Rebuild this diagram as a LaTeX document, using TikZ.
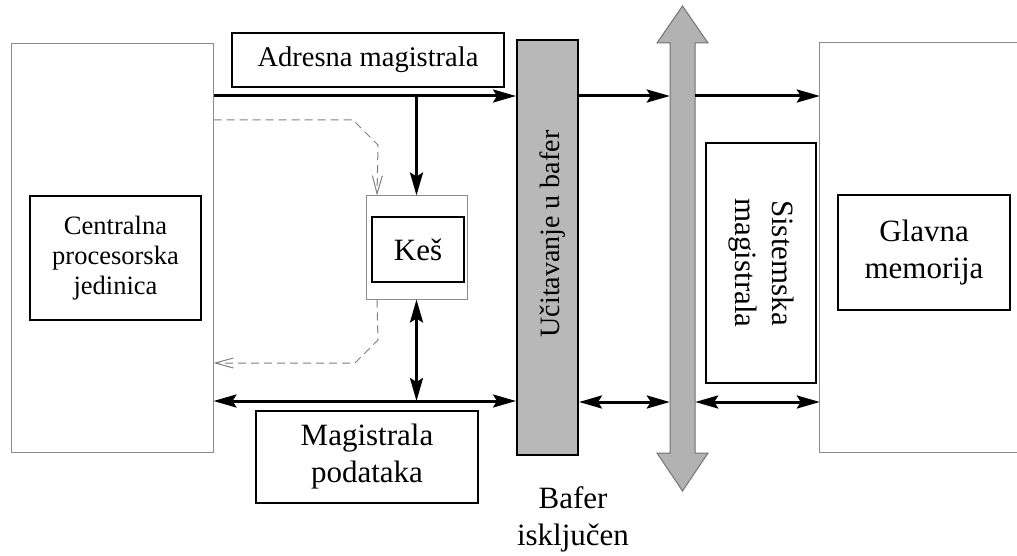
\documentclass[tikz,border=0pt]{standalone}
\usepackage{fontspec}
\setmainfont{Liberation Serif}
\usetikzlibrary{arrows.meta,calc}
\begin{document}
\begin{tikzpicture}[x=1pt,y=-1pt,
  box/.style={draw=black,line width=2pt,inner sep=0pt,rectangle,align=center},
  outer/.style={draw=black!45,line width=1pt,inner sep=0pt,rectangle},
  bus/.style={line width=3pt,-{Stealth[length=23pt,width=13pt,inset=4pt]}},
  bibus/.style={line width=3pt,{Stealth[length=23pt,width=13pt,inset=4pt]}-{Stealth[length=23pt,width=13pt,inset=4pt]}},
  ctrl/.style={draw=black!50,line width=1pt,dash pattern=on 8pt off 5pt,-{Straight Barb[length=18pt,width=10pt]}},
  big/.style={font=\fontsize{31}{37}\selectfont},
]
\useasboundingbox[fill=white] (0,0) rectangle (1017,556);

% outer boxes
\node[outer,minimum width=202pt,minimum height=408pt] (cpu) at (112,248) {};
\node[outer,minimum width=101pt,minimum height=103pt] (cache) at (416.5,247.5) {};
\node[inner sep=0pt,minimum width=197pt,minimum height=409pt] (mem) at (918.5,247.5) {};
\draw[draw=black!45,line width=1pt] (mem.north east) -- (mem.north west) -- (mem.south west) -- (mem.south east);

% inner boxes
\node[box,minimum width=171pt,minimum height=124pt,font=\fontsize{26.5}{30}\selectfont] (cpuin) at (115.5,258) {Centralna\\procesorska\\jedinica};
\node[box,minimum width=272pt,minimum height=54pt,font=\fontsize{28.5}{34}\selectfont] (adr) at (368,60) {Adresna magistrala};
\node[box,big,minimum width=92pt,minimum height=65pt] (kes) at (418,249.5) {Keš};
\node[box,big,minimum width=222pt,minimum height=92pt] (mpod) at (367,457) {Magistrala\\podataka};
\node[box,big,rotate=-90,minimum width=240pt,minimum height=110pt] (sysm) at (761,263) {Sistemska\\magistrala};
\node[box,big,minimum width=172pt,minimum height=115pt] (glav) at (924,252.5) {Glavna\\memorija};

% buffer
\node[box,fill=black!28,minimum width=61pt,minimum height=415pt] (buf) at (547.5,247.5) {};
\node[rotate=90,inner sep=0pt,font=\fontsize{28}{34}\selectfont] (buftext) at (553,234) {Učitavanje u bafer};

% system bus arrow
\node[inner sep=0pt,minimum width=25pt,minimum height=410pt] (sysbus) at (682.5,248) {};
\draw[fill=black!30,draw=black!55,line width=1pt]
  (682.5,6) -- (708,43) -- (695,43) -- (695,453) -- (708,453) -- (682.5,491)
  -- (657,453) -- (670,453) -- (670,43) -- (657,43) -- cycle;

\node[align=center,big] (bafoff) at (573,519) {Bafer\\isključen};

% address bus
\draw[bus] (cpu.east |- 0,96) -- (buf.west |- 0,96);
\draw[bus] (buf.east |- 0,96) -- (sysbus.west |- 0,96);
\draw[bus] (sysbus.east |- 0,96) -- (mem.west |- 0,96);
\draw[bus] (cache.north |- 0,96) -- (cache.north);

% data bus
\draw[bibus] (cpu.east |- 0,401) -- (buf.west |- 0,401);
\draw[bibus] (cache.south) -- (cache.south |- 0,401);
\draw[bibus] (buf.east |- 0,402) -- (sysbus.west |- 0,402);
\draw[bibus] (sysbus.east |- 0,402) -- (mem.west |- 0,402);

% control (dashed)
\draw[ctrl] (cpu.east |- 0,120) -- (353,120) -- (378,145) -- ([xshift=11.5pt]cache.north west);
\draw[ctrl] ([xshift=11.5pt]cache.south west) -- (378,340) -- (355,363) -- (cpu.east |- 0,363);
\end{tikzpicture}
\end{document}
